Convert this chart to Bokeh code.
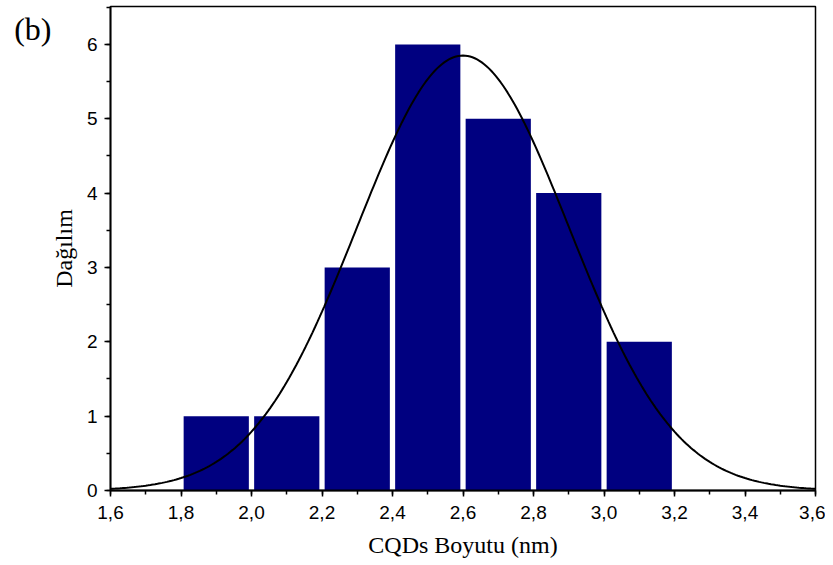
from bokeh.plotting import figure
from bokeh.embed import file_html
from bokeh.resources import INLINE
from bokeh.models import FixedTicker, LinearAxis, Range1d
import numpy as np

# Histogram data
bin_centers = [1.9, 2.1, 2.3, 2.5, 2.7, 2.9, 3.1]
counts = [1, 1, 3, 6, 5, 4, 2]
bar_width = 0.185

# Gaussian fit parameters
fit_mu = 2.6
fit_sigma = 0.30
fit_amp = 5.85

x_ticks = [1.6, 1.8, 2.0, 2.2, 2.4, 2.6, 2.8, 3.0, 3.2, 3.4, 3.6]
x_tick_labels = ["1,6", "1,8", "2,0", "2,2", "2,4", "2,6", "2,8", "3,0", "3,2", "3,4", "3,6"]
y_ticks = [0, 1, 2, 3, 4, 5, 6]
panel_letter = "(b)"

p = figure(width=825, height=565, output_backend="svg", toolbar_location=None,
           x_range=Range1d(1.6, 3.6), y_range=Range1d(0, 6.51),
           min_border_left=110, min_border_right=10, min_border_top=6, min_border_bottom=75)

p.xgrid.visible = False
p.ygrid.visible = False
p.outline_line_color = "black"
p.outline_line_width = 1.5
p.background_fill_color = "white"
p.border_fill_color = "white"

p.vbar(x=bin_centers, top=counts, width=bar_width, bottom=0,
       fill_color="#000080", line_color=None)

xs = np.linspace(1.6, 3.6, 301)
ys = fit_amp * np.exp(-(xs - fit_mu) ** 2 / (2 * fit_sigma ** 2))
p.line(xs, ys, line_color="black", line_width=2)

for ax in (p.xaxis[0], p.yaxis[0]):
    ax.axis_line_color = "black"
    ax.axis_line_width = 1.8
    ax.major_tick_line_color = "black"
    ax.minor_tick_line_color = "black"
    ax.major_tick_line_width = 1.5
    ax.minor_tick_line_width = 1.5
    ax.major_tick_out = 6
    ax.major_tick_in = 0
    ax.minor_tick_out = 4
    ax.minor_tick_in = 0
    ax.major_label_text_font = "Liberation Sans"
    ax.major_label_text_font_size = "19px"
    ax.major_label_text_color = "black"
    ax.axis_label_text_font = "Liberation Serif"
    ax.axis_label_text_font_style = "normal"
    ax.axis_label_text_color = "black"
    ax.axis_label_text_font_size = "24px"

p.xaxis.ticker = FixedTicker(ticks=x_ticks, minor_ticks=[round(1.6 + 0.1 * i, 2) for i in range(21)])
p.xaxis.major_label_overrides = {t: l for t, l in zip(x_ticks, x_tick_labels)}
p.yaxis.ticker = FixedTicker(ticks=y_ticks, minor_ticks=[0.5 * i for i in range(14)])

p.xaxis.axis_label = "CQDs Boyutu (nm)"
p.yaxis.axis_label = "Dağılım"
p.xaxis.major_label_standoff = 9
p.yaxis.major_label_standoff = 7
p.xaxis.axis_label_standoff = 10
p.yaxis.axis_label_standoff = 7

# panel letter "(b)": an invisible outer left axis carrying one label
letter_pos = 6.21
letter_axis = LinearAxis(ticker=FixedTicker(ticks=[letter_pos], minor_ticks=[]),
                         major_label_overrides={letter_pos: panel_letter},
                         axis_line_color=None, major_tick_line_color=None,
                         minor_tick_line_color=None, major_tick_out=0, major_tick_in=0,
                         minor_tick_out=0, minor_tick_in=0, major_label_standoff=-4,
                         major_label_text_font="Liberation Serif",
                         major_label_text_font_size="32px",
                         major_label_text_color="black")
p.add_layout(letter_axis, "left")

open("out.html", "w").write(file_html(p, INLINE))
